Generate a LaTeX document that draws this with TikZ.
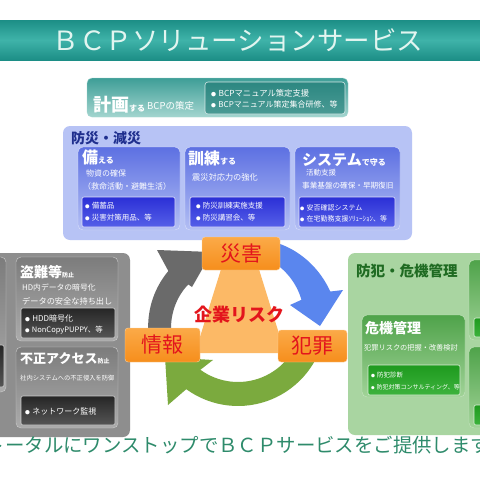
\documentclass[tikz,border=0pt]{standalone}
\usepackage{fontspec}
\setmainfont{Noto Sans CJK JP}
\usepackage{xcolor}
\definecolor{bcpbar}{HTML}{1C8E86}
\definecolor{bcpbarmid}{HTML}{3FB3A9}
\definecolor{bcptitle}{HTML}{E2F5F0}
\definecolor{plantop}{HTML}{3E9E97}
\definecolor{planbot}{HTML}{A3D5CF}
\definecolor{planin}{HTML}{2C8781}
\definecolor{dispanel}{HTML}{B7C3F5}
\definecolor{distop}{HTML}{5D70E2}
\definecolor{disbot}{HTML}{B3BFF4}
\definecolor{disin}{HTML}{2B2FD6}
\definecolor{disinb}{HTML}{5560E8}
\definecolor{disnavy}{HTML}{1F2F8E}
\definecolor{secpanel}{HTML}{8E8E8E}
\definecolor{sectop}{HTML}{7C7C7C}
\definecolor{secbot}{HTML}{ABABAB}
\definecolor{secin}{HTML}{262626}
\definecolor{secinb}{HTML}{555555}
\definecolor{crimepanel}{HTML}{A9D5A1}
\definecolor{crimetop}{HTML}{4FA34A}
\definecolor{crimebot}{HTML}{A1D398}
\definecolor{crimein}{HTML}{1E9A1E}
\definecolor{crimeinb}{HTML}{3DB33D}
\definecolor{crimedark}{HTML}{1F6B22}
\definecolor{risktop}{HTML}{FBAA48}
\definecolor{riskbot}{HTML}{F68E1C}
\definecolor{riskline}{HTML}{FCD3A0}
\definecolor{riskred}{HTML}{E3151C}
\definecolor{risktri}{HTML}{FCB966}
\definecolor{cyclegray}{HTML}{6A6A6A}
\definecolor{cycleblue}{HTML}{5A86EE}
\definecolor{cyclegreen}{HTML}{7BAA3E}
\definecolor{closing}{HTML}{2E8B6B}
\newcommand\fs[1]{\fontsize{#1}{#1}\selectfont}
\newcommand\dotmark{\scalebox{0.6}{●}\hspace{0.3em}}

\begin{document}
\begin{tikzpicture}[x=1pt, y=-1pt,
  sz/.style 2 args={minimum width=#1pt, minimum height=#2pt},
  panel/.style={rectangle, inner sep=0pt, rounded corners=7pt},
  card/.style={rectangle, inner sep=0pt, rounded corners=5pt},
  inbox/.style={rectangle, inner sep=0pt, rounded corners=2pt, line width=0.6pt},
  txt/.style={anchor=west, inner sep=0pt, text=white},
  discard/.style={card, top color=distop, bottom color=disbot, draw=disbot!50!white},
  disbox/.style={inbox, top color=disin, bottom color=disinb, draw=white!85!disin},
  seccard/.style={card, top color=sectop, bottom color=secbot, draw=secbot!60!white},
  secbox/.style={inbox, top color=secin, bottom color=secinb, draw=white!80!black},
  crimecard/.style={card, top color=crimetop, bottom color=crimebot, draw=crimebot!60!white},
  crimebox/.style={inbox, top color=crimein, bottom color=crimeinb, draw=crimebot!40!white},
  riskbox/.style={rectangle, rounded corners=3pt, inner sep=0pt, top color=risktop,
    bottom color=riskbot, draw=riskline, text=riskred, font=\fs{21}}
]
\useasboundingbox (0,0) rectangle (480,480);
\clip (0,0) rectangle (480,480);
\fill[white] (0,0) rectangle (480,480);

% title
\node[rectangle, inner sep=0pt, sz={490}{40}, top color=bcpbar, bottom color=bcpbar,
  middle color=bcpbarmid] (titlebar) at (240,40) {};
\node[text=bcptitle, font=\fs{26.5}] (title) at (238,40) {ＢＣＰソリューションサービス};

% plan
\node[card, sz={261}{39}, top color=plantop, bottom color=planbot, draw=planbot] (plan) at (217.5,97.5) {};
\node[inbox, rounded corners=3pt, sz={140}{32}, top color=planin, bottom color=planin!75!planbot,
  draw=white!80!planin] (planin) at (275,98) {};
\node[txt, anchor=base west, font=\bfseries] (plantitle) at (93,111) {\fs{18}計画\fs{8}する};
\node[txt, anchor=base west, font=\fs{9.5}] (plansub) at (147,109) {BCPの策定};
\node[txt, font=\fs{8.3}] (plan1) at (211,93) {\dotmark BCPマニュアル策定支援};
\node[txt, font=\fs{8}] (plan2) at (211,104) {\dotmark BCPマニュアル策定集合研修、等};

% disaster prevention
\node[panel, sz={349}{114}, fill=dispanel] (disaster) at (237.5,183) {};
\node[anchor=west, inner sep=0pt, text=disnavy, font=\bfseries\fs{14}] (distitle) at (71,138) {防災・減災};
\node[discard, sz={102}{83}] (prepare) at (129,188.5) {};
\node[discard, sz={105}{83}] (train) at (237.5,188.5) {};
\node[discard, sz={105}{83}] (system) at (347.5,188.5) {};
\node[disbox, sz={93}{30}] (preparein) at (128.5,212) {};
\node[disbox, sz={95}{30}] (trainin) at (237.5,212) {};
\node[disbox, sz={96}{30}] (systemin) at (347,212) {};
\node[txt, font=\bfseries] (preparehead) at (82,157) {\fs{16}備\fs{8}える};
\node[txt, font=\fs{8}] (prepare1) at (86,173) {物資の確保};
\node[txt, font=\fs{8}] (prepare2) at (83,186) {（救命活動・避難生活）};
\node[txt, font=\fs{7.5}] (prepare3) at (85,206) {\dotmark 備蓄品};
\node[txt, font=\fs{7.5}] (prepare4) at (85,218) {\dotmark 災害対策用品、等};
\node[txt, font=\bfseries] (trainhead) at (188,158) {\fs{16}訓練\fs{8}する};
\node[txt, font=\fs{8.2}] (train1) at (192,177) {震災対応力の強化};
\node[txt, font=\fs{7.5}] (train2) at (196,206) {\dotmark 防災訓練実施支援};
\node[txt, font=\fs{7.5}] (train3) at (196,218) {\dotmark 防災講習会、等};
\node[txt, font=\bfseries] (systemhead) at (302,160) {\fs{15}システム\fs{8}で守る};
\node[txt, font=\fs{7.5}] (system1) at (306,173) {活動支援};
\node[txt, font=\fs{7.6}] (system2) at (302,186) {事業基盤の確保・早期復旧};
\node[txt, font=\fs{7}] (system3) at (300,208) {\dotmark 安否確認システム};
\node[txt, font=\fs{7}] (system4) at (300,219) {\dotmark 在宅勤務支援ｿﾘｭｰｼｮﾝ、等};

% information security
\node[panel, sz={160}{184}, fill=secpanel] (security) at (50,345) {};
\node[seccard, sz={70}{135}] (secleft) at (-29,324.5) {};
\node[secbox, sz={70}{42}] (secleftin) at (-31,366) {};
\node[seccard, sz={102}{84}] (theft) at (67,299) {};
\node[secbox, sz={94}{30}] (theftin) at (68,323) {};
\node[seccard, sz={102}{81}] (access) at (67,387.5) {};
\node[secbox, sz={94}{29}] (accessin) at (68,410.5) {};
\node[txt, font=\bfseries] (thefthead) at (20,272) {\fs{14}盗難等\fs{6}防止};
\node[txt, font=\fs{7.8}] (theft1) at (22,287) {HD内データの暗号化};
\node[txt, font=\fs{8.2}] (theft2) at (22,301) {データの安全な持ち出し};
\node[txt, font=\fs{8}] (theft3) at (25,318) {\dotmark HDD暗号化};
\node[txt, font=\fs{7.5}] (theft4) at (25,330) {\dotmark NonCopyPUPPY、等};
\node[txt, font=\bfseries] (accesshead) at (20,359) {\fs{13}不正アクセス\fs{6}防止};
\node[txt, font=\fs{6.3}] (access1) at (20,378) {社内システムへの不正侵入を防御};
\node[txt, font=\fs{8}] (access2) at (25,411) {\dotmark ネットワーク監視};

% crime prevention
\node[panel, sz={252}{182}, fill=crimepanel] (crime) at (474,344) {};
\node[anchor=west, inner sep=0pt, text=crimedark, font=\bfseries\fs{14.5}] (crimetitle) at (356,271) {防犯・危機管理};
\node[crimecard, sz={103}{82}] (crisis) at (413.5,356) {};
\node[crimebox, sz={92}{30}] (crisisin) at (414,380) {};
\node[crimecard, sz={133}{80}] (crimea) at (535.5,300) {};
\node[crimebox, sz={127}{19}] (crimeain) at (537.5,327.5) {};
\node[crimecard, sz={133}{81}] (crimeb) at (535.5,387.5) {};
\node[crimebox, sz={127}{20}] (crimebin) at (537.5,415) {};
\node[txt, font=\bfseries\fs{14}] (crisishead) at (365,328) {危機管理};
\node[txt, font=\fs{7.2}] (crisis1) at (364,348) {犯罪リスクの把握・改善検討};
\node[txt, font=\fs{6.5}] (crisis2) at (371,375) {\dotmark 防犯診断};
\node[txt, font=\fs{6}] (crisis3) at (371,387) {\dotmark 防犯対策コンサルティング、等};

% risk cycle
\fill[risktri] (227,250) -- (253,250) -- (285,353) -- (195,353) -- cycle;
\begin{scope}[shift={(238,318)}]
  \fill[cyclegray] plot[domain=170:214, samples=24] (\x:{91-(\x-170)*7/44})
    -- (-81,-68) -- (-26,-66) -- (-46,-31)
    -- plot[domain=170:214, samples=24] ({384-\x}:{68-(214-\x)*8/44}) -- cycle;
  \fill[cycleblue] plot[domain=295:344, samples=24] (\x:{84+(\x-295)*12/49})
    -- (105,-28) -- (82,8) -- (52,-13)
    -- plot[domain=295:344, samples=24] ({639-\x}:66) -- cycle;
  \fill[cyclegreen] plot[domain=20:126, samples=30] (\x:88)
    -- (-70,87) -- (-73,39) -- (-25,42)
    -- plot[domain=20:126, samples=30] ({146-\x}:64) -- cycle;
\end{scope}
\node[riskbox, sz={78}{33}] (hazard) at (241,253.5) {災害};
\node[riskbox, sz={75}{34}] (info) at (162.5,345) {情報};
\node[riskbox, sz={69}{32}] (crimerisk) at (312.5,346) {犯罪};
\node[text=riskred, font=\bfseries\fs{18}] (risk) at (239,315) {企業リスク};

% closing line
\node[text=closing, font=\fs{19.4}] (closing) at (238,445) {トータルにワンストップでＢＣＰサービスをご提供します};
\end{tikzpicture}
\end{document}
